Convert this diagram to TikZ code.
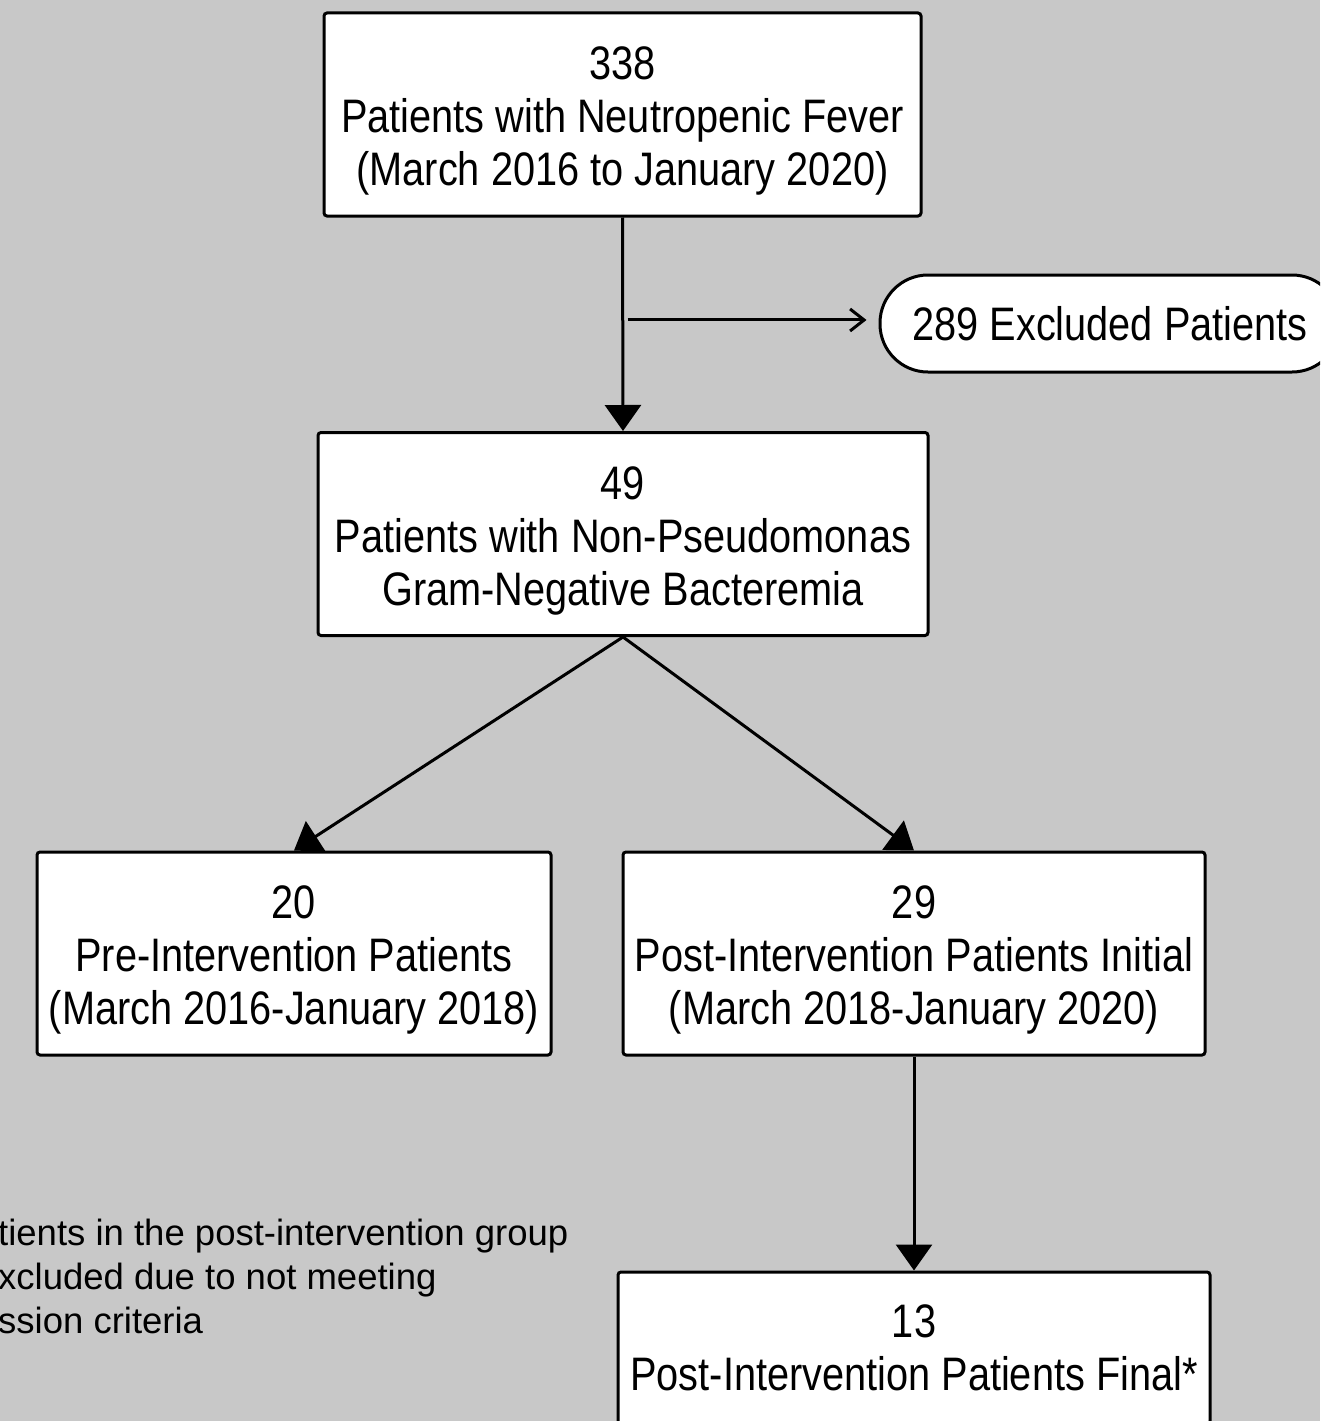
\documentclass[tikz,border=0pt]{standalone}
\usepackage{fontspec}
\setmainfont{Liberation Sans}[FakeStretch=0.845]
\newfontfamily\notefont{Liberation Sans}
\usetikzlibrary{arrows.meta,calc}
\definecolor{flowbg}{RGB}{200,200,200}
\newcommand{\topgap}{\rule{0pt}{46pt}}
\tikzset{
    every node/.style={font=\fontsize{47}{53}\selectfont},
    flowbox/.style={rectangle,rounded corners=3pt,draw=black,line width=3pt,fill=white,align=center,inner sep=0pt,minimum height=203pt},
    exclbox/.style={rectangle,rounded corners=48pt,draw=black,line width=3pt,fill=white,minimum width=460pt,minimum height=97pt,inner sep=0pt},
    flow/.style={draw,line width=3pt,-{Triangle[length=26pt,width=36pt]}},
    side/.style={draw,line width=3pt,-{Straight Barb[length=14pt,width=22pt]}},
    footnote/.style={font=\notefont\fontsize{36.5}{44}\selectfont,align=left,anchor=north west,inner sep=0pt}
}

\begin{document}
\begin{tikzpicture}[x=1pt,y=-1pt]
\useasboundingbox (0,0) rectangle (1320,1421);
\fill[flowbg] (0,0) rectangle (1320,1421);
\clip (0,0) rectangle (1320,1421);
% boxes
\node[flowbox,minimum width=597pt] (fever) at (622.5,114.5) {\topgap 338\\Patients with Neutropenic Fever\\(March 2016 to January 2020)};
\node[flowbox,minimum width=610pt] (bact) at (623,534) {\topgap 49\\Patients with Non-Pseudomonas\\Gram-Negative Bacteremia};
\node[flowbox,minimum width=514pt] (pre) at (294,953.5) {\topgap 20\\Pre-Intervention Patients\\(March 2016-January 2018)};
\node[flowbox,minimum width=582pt] (postinit) at (914,953.5) {\topgap 29\\Post-Intervention Patients Initial\\(March 2018-January 2020)};
\node[flowbox,minimum width=592pt,minimum height=152pt] (postfinal) at (914,1348) {13\\Post-Intervention Patients Final*};
\node[exclbox] (excl) at (1110,323.5) {289 Excluded Patients};
\node[footnote] (note) at (-2,1219) {tients in the post-intervention group\\xcluded due to not meeting\\ssion criteria};
% connectors
\coordinate (split) at ($(fever.south)!0.48!(bact.north)$);
\draw[flow] (fever.south) -- (bact.north);
\draw[side,shorten >=12pt] ([xshift=5pt]split) -- (split -| excl.west);
\draw[flow] (bact.south) -- (pre.north);
\draw[flow] (bact.south) -- (postinit.north);
\draw[flow] (postinit.south) -- (postfinal.north);
\end{tikzpicture}
\end{document}
